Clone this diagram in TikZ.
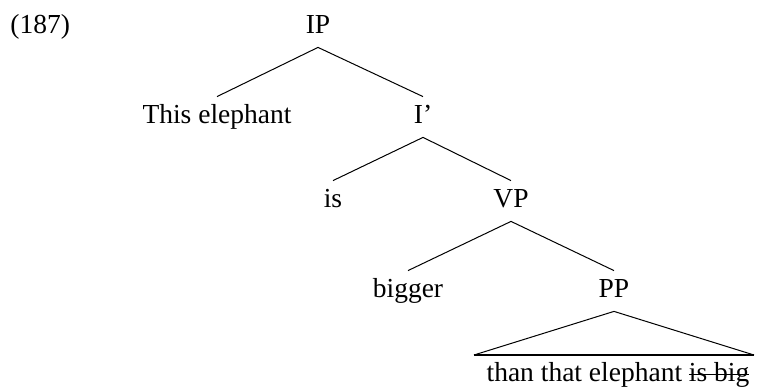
\documentclass[tikz,border=0pt]{standalone}
\usepackage{fontspec}
\setmainfont{Liberation Serif}
\newcommand\mystrike[1]{\setbox0\hbox{#1}\rlap{\rule[0.25em]{\wd0}{0.5pt}}\box0}
\begin{document}
\begin{tikzpicture}[x=0.5pt,y=-0.5pt,
  lbl/.style={inner sep=0pt,text height=13.5pt,text depth=6.5pt,anchor=base,font=\fontsize{13.75}{16}\selectfont},
  branch/.style={line width=0.5pt},
  basebar/.style={line width=1pt}]
\useasboundingbox (0,0) rectangle (757,390);
\node[lbl,anchor=base west] (num) at (10,34) {(187)};
\node[lbl] (IP) at (318,34) {IP};
\node[lbl] (TE) at (217,124) {This elephant};
\node[lbl] (Ib) at (423,124) {I’};
\node[lbl] (is) at (333,208) {is};
\node[lbl] (VP) at (511,208) {VP};
\node[lbl] (bg) at (408,298) {bigger};
\node[lbl] (PP) at (614,298) {PP};
\node[lbl] (bot) at (618,382) {than that elephant \mystrike{is big}};
\coordinate (bl) at (474,355);
\coordinate (br) at (754,355);
\draw[branch] (IP.south) -- (TE.north);
\draw[branch] (IP.south) -- (Ib.north);
\draw[branch] (Ib.south) -- (is.north);
\draw[branch] (Ib.south) -- (VP.north);
\draw[branch] (VP.south) -- (bg.north);
\draw[branch] (VP.south) -- (PP.north);
\draw[branch] (bl) -- (PP.south) -- (br);
\draw[basebar] (bl) -- (br);
\end{tikzpicture}
\end{document}
